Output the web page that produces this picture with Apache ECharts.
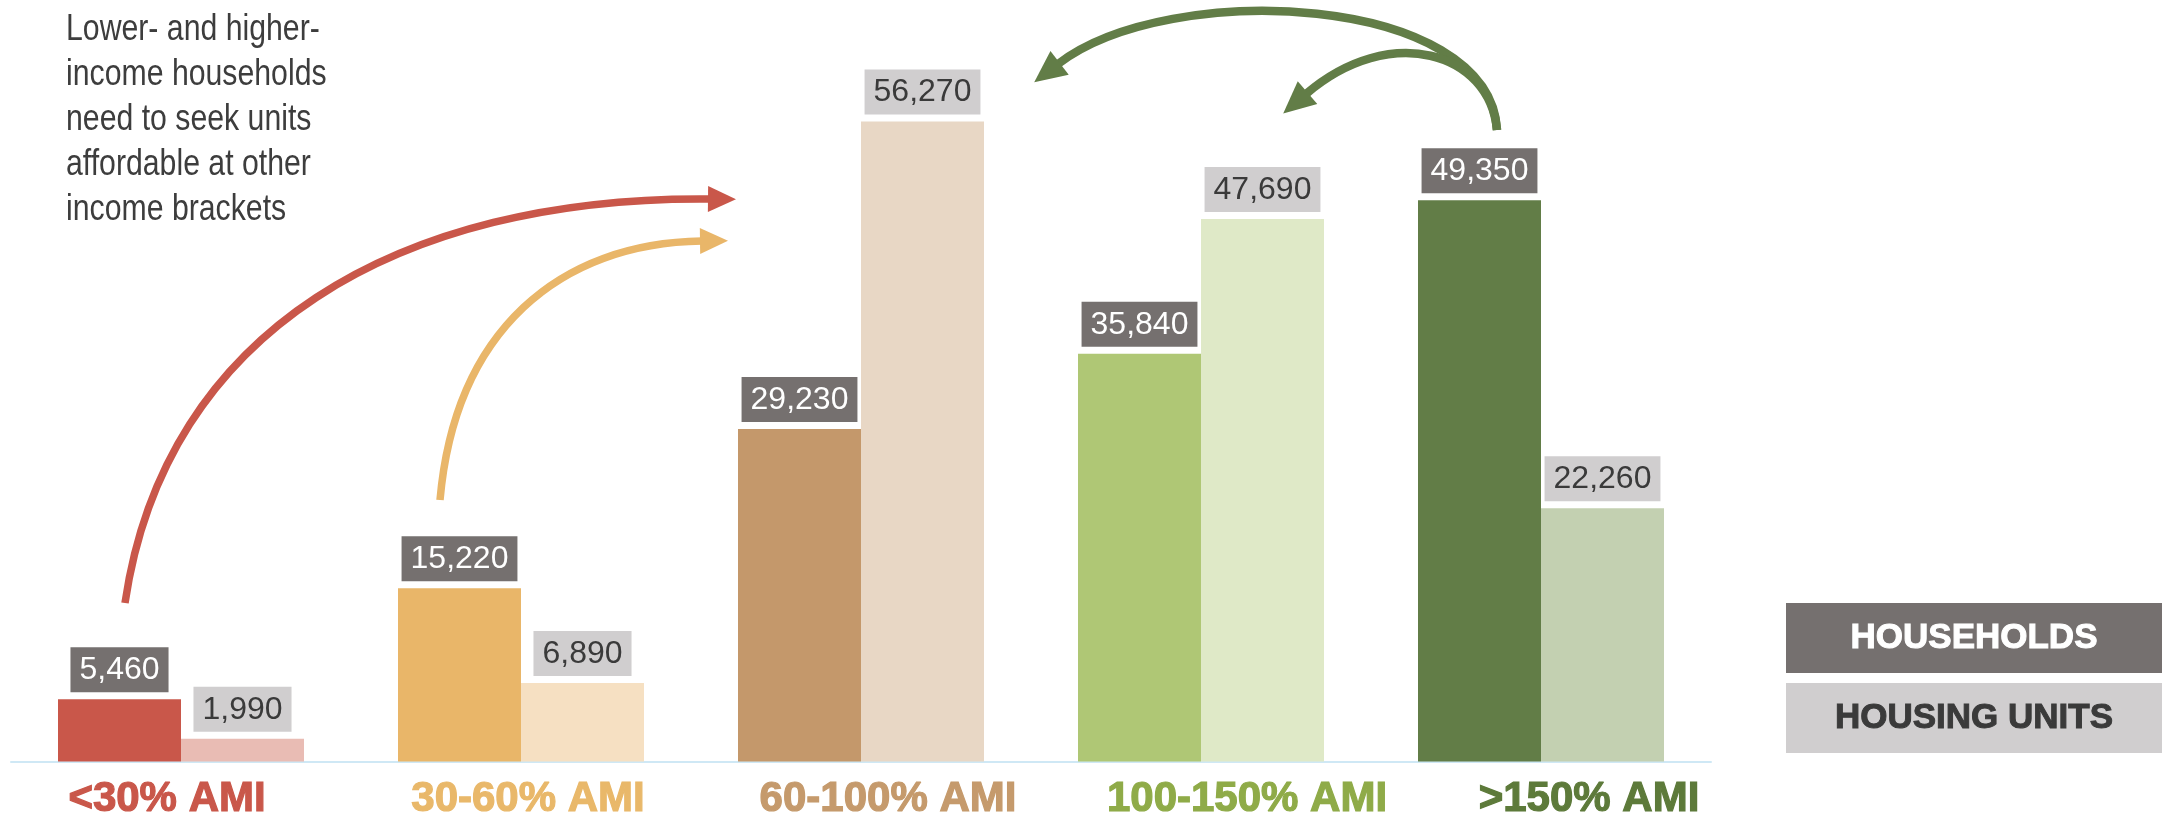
<!DOCTYPE html>
<html>
<head>
<meta charset="utf-8">
<script src="https://cdn.jsdelivr.net/npm/echarts@6/dist/echarts.min.js"></script>
<style>
  html, body { margin: 0; padding: 0; background: #fff; }
  #chart { width: 2162px; height: 821px; }
</style>
</head>
<body>
<div id="chart"></div>
<script>
// data
const categories = ["<30% AMI", "30-60% AMI", "60-100% AMI", "100-150% AMI", ">150% AMI"];
const households = [5460, 15220, 29230, 35840, 49350];
const housingUnits = [1990, 6890, 56270, 47690, 22260];
const seriesNames = ["HOUSEHOLDS", "HOUSING UNITS"];
const note = "Lower- and higher-\nincome households\nneed to seek units\naffordable at other\nincome brackets";

// colours
const hhColors = ["#c9574a", "#e9b669", "#c4986b", "#afc775", "#627d47"];
const huColors = ["#e9bcb4", "#f6e0c2", "#e8d7c5", "#dfe9c7", "#c3d0b1"];
const catColors = ["#c9574a", "#e9b86a", "#c59a6c", "#8fab48", "#5d7a3a"];
const labelShift = [-14, 7, 27, 46, 48]; // category labels sit a bit off-centre

const FONT = '"Liberation Sans", Arial, sans-serif';

function fmt(v) {
  return String(v).replace(/\B(?=(\d{3})+(?!\d))/g, ",");
}

const rich = {};
categories.forEach((c, i) => {
  const s = labelShift[i];
  rich["c" + i] = {
    color: catColors[i],
    fontFamily: FONT,
    fontWeight: "bold",
    fontSize: 42,
    lineHeight: 42,
    textBorderColor: catColors[i],
    textBorderWidth: 1.2,
    padding: s >= 0 ? [0, 0, 0, 2 * s] : [0, -2 * s, 0, 0],
  };
});

// arrows (annotation only)
function arrow(p0, c1, c2, p3, color, width, L, W) {
  const dx = p3[0] - c2[0], dy = p3[1] - c2[1];
  const len = Math.sqrt(dx * dx + dy * dy);
  const ux = dx / len, uy = dy / len;
  const tip = [p3[0] + ux * L, p3[1] + uy * L];
  const back = [p3[0] - ux * 2, p3[1] - uy * 2];
  return [
    {
      type: "bezierCurve",
      shape: { x1: p0[0], y1: p0[1], cpx1: c1[0], cpy1: c1[1], cpx2: c2[0], cpy2: c2[1], x2: p3[0], y2: p3[1] },
      style: { stroke: color, lineWidth: width, fill: null },
      silent: true,
    },
    {
      type: "polygon",
      shape: { points: [tip, [back[0] - uy * W, back[1] + ux * W], [back[0] + uy * W, back[1] - ux * W]] },
      style: { fill: color },
      silent: true,
    },
  ];
}

const arrows = [].concat(
  arrow([125, 603], [165, 330], [400, 196], [710, 199], "#c9574a", 7.5, 26, 13),
  arrow([440, 500], [455, 330], [560, 243], [702, 241], "#e9b669", 7.5, 26, 13),
  arrow([1497, 130], [1490, -6], [1170, -22], [1058, 64], "#627d47", 8.5, 30, 15),
  arrow([1497, 130], [1490, 52], [1390, 22], [1306, 94], "#627d47", 8.5, 30, 15)
);

const legendBoxes = [];
seriesNames.forEach((n, i) => {
  const c = i === 0 ? "#ffffff" : "#3a3a3a";
  legendBoxes.push({
    type: "rect",
    left: 1786,
    top: 603 + i * 80,
    shape: { width: 376, height: 70 },
    style: { fill: i === 0 ? "#75706f" : "#d0cecf" },
    textContent: {
      style: {
        text: n,
        fill: c,
        stroke: c,
        lineWidth: 1,
        font: "bold 35px " + FONT,
      },
    },
    textConfig: { position: "inside" },
  });
});

var myChart = echarts.init(document.getElementById("chart"));
var options = {
  animation: false,
  grid: { left: 11, right: 451, top: 79, bottom: 58 },
  xAxis: {
    type: "category",
    data: categories,
    axisLine: { lineStyle: { color: "#cfe8f5", width: 2 } },
    axisTick: { show: false },
    axisLabel: {
      interval: 0,
      margin: 17,
      formatter: (v, i) => "{c" + i + "|" + v + "}",
      rich: rich,
    },
  },
  yAxis: {
    type: "value",
    min: 0,
    max: 60000,
    show: false,
    splitLine: { show: false },
  },
  series: [
    {
      name: seriesNames[0],
      type: "bar",
      barWidth: 123,
      barGap: "0%",
      data: households,
      itemStyle: { color: (p) => hhColors[p.dataIndex] },
      label: {
        show: true,
        position: "top",
        distance: 7,
        formatter: (p) => fmt(p.value),
        color: "#ffffff",
        backgroundColor: "#75706f",
        fontFamily: FONT,
        fontSize: 32,
        lineHeight: 34,
        padding: [6, 9, 5, 9],
      },
    },
    {
      name: seriesNames[1],
      type: "bar",
      barWidth: 123,
      barGap: "0%",
      data: housingUnits,
      itemStyle: { color: (p) => huColors[p.dataIndex] },
      label: {
        show: true,
        position: "top",
        distance: 7,
        formatter: (p) => fmt(p.value),
        color: "#3a3a3a",
        backgroundColor: "#d0cecf",
        fontFamily: FONT,
        fontSize: 32,
        lineHeight: 34,
        padding: [6, 9, 5, 9],
      },
    },
  ],
  graphic: [
    {
      type: "text",
      x: 66,
      y: 8,
      scaleX: 0.84,
      style: {
        text: note,
        fill: "#3d3d3d",
        font: "36px " + FONT,
        lineHeight: 45,
      },
    },
  ].concat(arrows, legendBoxes),
};
myChart.setOption(options);
</script>
</body>
</html>
